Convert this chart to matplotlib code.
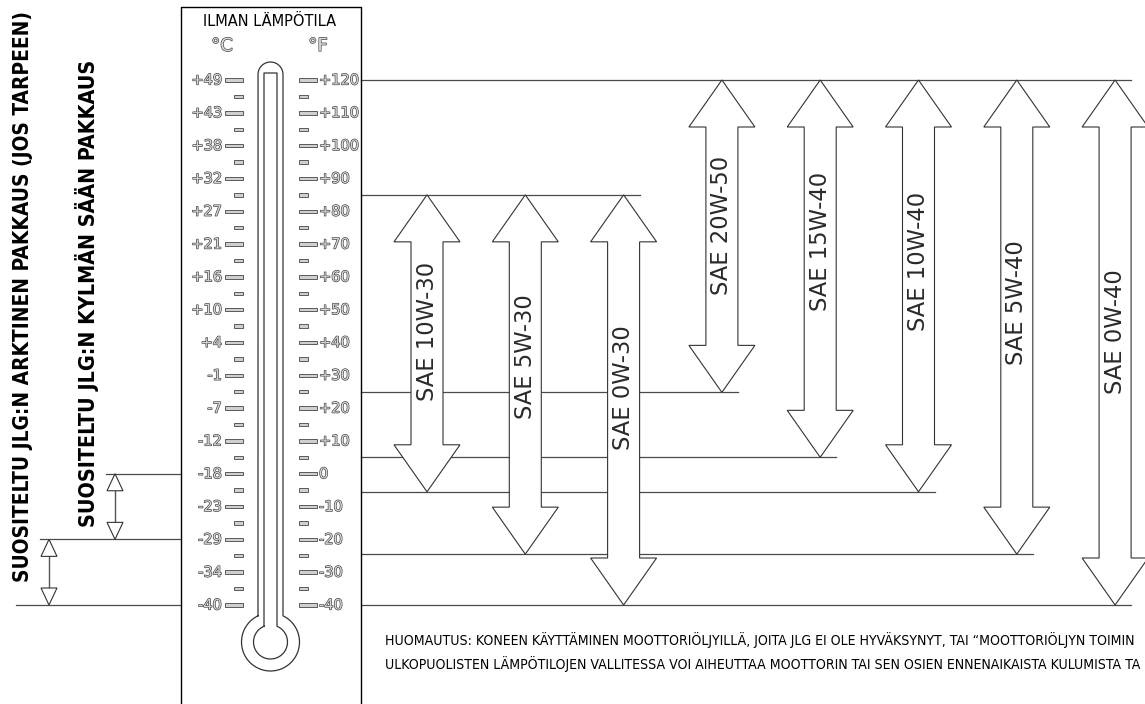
import numpy as np
import matplotlib
matplotlib.use("Agg")
import matplotlib.pyplot as plt
from matplotlib.patches import Polygon, Rectangle
from matplotlib import font_manager as fm
import matplotlib.patheffects as pe

# ---------------- data ----------------
f_ticks = [120, 110, 100, 90, 80, 70, 60, 50, 40, 30, 20, 10, 0, -10, -20, -30, -40]
c_labels = ['+49', '+43', '+38', '+32', '+27', '+21', '+16', '+10', '+4', '-1', '-7',
            '-12', '-18', '-23', '-29', '-34', '-40']
f_labels = ['+120', '+110', '+100', '+90', '+80', '+70', '+60', '+50', '+40', '+30', '+20',
            '+10', '0', '-10', '-20', '-30', '-40']

grades = ['SAE 10W-30', 'SAE 5W-30', 'SAE 0W-30', 'SAE 20W-50',
          'SAE 15W-40', 'SAE 10W-40', 'SAE 5W-40', 'SAE 0W-40']
grade_min_F = [-5.5, -24.5, -40, 24.8, 5, -5.5, -24.5, -40]
grade_max_F = [85, 85, 85, 120, 120, 120, 120, 120]
label_center_F = [43.5, 35.6, 26.1, 75.8, 70.9, 64.8, 52.3, 43.2]

packages = ['SUOSITELTU JLG:N ARKTINEN PAKKAUS (JOS TARPEEN)',
            'SUOSITELTU JLG:N KYLMÄN SÄÄN PAKKAUS']
pack_min_F = [-40, -20]
pack_max_F = [-20, 0]

title = 'ILMAN LÄMPÖTILA'
note_lines = ['HUOMAUTUS: KONEEN KÄYTTÄMINEN MOOTTORIÖLJYILLÄ, JOITA JLG EI OLE HYVÄKSYNYT, TAI “MOOTTORIÖLJYN TOIMIN',
              'ULKOPUOLISTEN LÄMPÖTILOJEN VALLITESSA VOI AIHEUTTAA MOOTTORIN TAI SEN OSIEN ENNENAIKAISTA KULUMISTA TA']

# ---------------- layout helpers ----------------
W, H = 1145, 704
PX_PER_F = 525 / 160.0
TOP_F = 120 + 80 / PX_PER_F


def fy(ypx):
    return TOP_F - np.asarray(ypx, dtype=float) / PX_PER_F


def dfy(px):
    return px / PX_PER_F


# font selection (prefer a narrow face)
names = {(f.name, f.stretch) for f in fm.fontManager.ttflist}
fam_names = {n for n, s in names}
if 'Liberation Sans Narrow' in fam_names:
    COND = dict(family='Liberation Sans Narrow')
elif any(n == 'DejaVu Sans' and 'condensed' in str(s) for n, s in names):
    COND = dict(family='DejaVu Sans', stretch='condensed')
else:
    COND = dict(family='DejaVu Sans')

fig = plt.figure(figsize=(W / 100, H / 100), dpi=100)
ax = fig.add_axes([0, 0, 1, 1])
ax.set_xlim(0, W)
ax.set_ylim(fy(H), fy(0))
ax.axis('off')

LINE_C = '#4a4a4a'
LW = 0.9

# ---------------- thermometer box ----------------
box_l, box_r, box_t = 181, 361, 7
ax.plot([box_l, box_l, box_r, box_r], fy([H + 5, box_t, box_t, H + 5]), color='black', lw=1.0, zorder=3)

# thermometer outline
cx = 270.5
ro, ri = 12.5, 6.5
cap_c = 74.5
bulb_cy, Ro, Ri = 642, 29, 17
th_o = np.degrees(np.arctan2(np.sqrt(Ro**2 - ro**2), ro))
join_o = bulb_cy - np.sqrt(Ro**2 - ro**2)
phi = np.radians(np.linspace(180, 0, 40))
theta = np.radians(np.linspace(th_o, -180 - th_o, 200))
xs = np.concatenate([[cx - ro, cx - ro], cx + ro * np.cos(phi), [cx + ro], cx + Ro * np.cos(theta)])
ys = np.concatenate([[join_o, cap_c], cap_c - ro * np.sin(phi), [join_o], bulb_cy - Ro * np.sin(theta)])
ax.plot(xs, fy(ys), color='#333333', lw=0.9, zorder=3)

th_i = np.degrees(np.arctan2(np.sqrt(Ri**2 - ri**2), ri))
join_i = bulb_cy - np.sqrt(Ri**2 - ri**2)
theta_i = np.radians(np.linspace(th_i, -180 - th_i, 200))
xs = np.concatenate([[cx - ri, cx - ri, cx + ri, cx + ri], cx + Ri * np.cos(theta_i)])
ys = np.concatenate([[join_i, 73, 73, join_i], bulb_cy - Ri * np.sin(theta_i)])
ax.plot(xs, fy(ys), color='#333333', lw=0.9, zorder=3)

# ticks
th = dfy(3.4)
for i, f in enumerate(f_ticks):
    ax.add_patch(Rectangle((225, f - th / 2), 18, th, fc='#cfcfcf', ec='#444', lw=0.6, zorder=3))
    ax.add_patch(Rectangle((299, f - th / 2), 18, th, fc='#cfcfcf', ec='#444', lw=0.6, zorder=3))
    if i < len(f_ticks) - 1:
        m = (f + f_ticks[i + 1]) / 2
        ax.add_patch(Rectangle((234, m - th / 2), 9, th, fc='#cfcfcf', ec='#444', lw=0.6, zorder=3))
        ax.add_patch(Rectangle((299, m - th / 2), 9, th, fc='#cfcfcf', ec='#444', lw=0.6, zorder=3))

outline = [pe.withStroke(linewidth=0.9, foreground='#3a3a3a')]
for f, cl, fl in zip(f_ticks, c_labels, f_labels):
    ax.text(222, f, cl, ha='right', va='center', fontsize=10.5, color='#d8d8d8',
            family='DejaVu Sans', path_effects=outline, zorder=4)
    ax.text(319, f, fl, ha='left', va='center', fontsize=10.5, color='#d8d8d8',
            family='DejaVu Sans', path_effects=outline, zorder=4)

ax.text(222, fy(46), '°C', ha='center', va='center', fontsize=13, color='#d8d8d8',
        family='DejaVu Sans', path_effects=outline, zorder=4)
ax.text(318, fy(46), '°F', ha='center', va='center', fontsize=13, color='#d8d8d8',
        family='DejaVu Sans', path_effects=outline, zorder=4)
t_title = ax.text(270, fy(21), title, ha='center', va='center', fontsize=14, color='black', **COND, zorder=4)

# ---------------- oil grade arrows ----------------
x0, dx = 427, 98.3
gx = [x0 + i * dx for i in range(len(grades))]
HW, SW, HL = 33, 16, dfy(47)

# horizontal boundary lines
ends = {}
for x, lo, hi in zip(gx, grade_min_F, grade_max_F):
    for v in (lo, hi):
        ends[v] = max(ends.get(v, 0), x + 16)
for v, xe in ends.items():
    ax.plot([box_r, xe], [v, v], color=LINE_C, lw=LW, zorder=1)


def dbl_arrow(x, lo, hi, hw, sw, hl, **kw):
    pts = [(x, hi), (x + hw, hi - hl), (x + sw, hi - hl), (x + sw, lo + hl), (x + hw, lo + hl),
           (x, lo), (x - hw, lo + hl), (x - sw, lo + hl), (x - sw, hi - hl), (x - hw, hi - hl)]
    ax.add_patch(Polygon(pts, closed=True, **kw))


for x, lo, hi in zip(gx, grade_min_F, grade_max_F):
    dbl_arrow(x, lo, hi, HW, SW, HL, fc='white', ec='#333333', lw=0.8, zorder=2)

sae_txt = []
for x, name, c in zip(gx, grades, label_center_F):
    sae_txt.append(ax.text(x, c, name, rotation=90, ha='center', va='center', fontsize=13,
                           color='#2a2a2a', family='DejaVu Sans', zorder=4))

# ---------------- package arrows (left) ----------------
px_ = [49, 115]
lend = {}
for x, lo, hi in zip(px_, pack_min_F, pack_max_F):
    for v in (lo, hi):
        lend[v] = min(lend.get(v, 1e9), x - 9)
lend[min(lend)] = 16
for v, xs_ in lend.items():
    ax.plot([xs_, box_l], [v, v], color=LINE_C, lw=LW, zorder=1)

shl = dfy(17)
for x, lo, hi in zip(px_, pack_min_F, pack_max_F):
    ax.plot([x, x], [lo + shl, hi - shl], color='#555555', lw=1.0, zorder=2)
    ax.add_patch(Polygon([(x, hi), (x + 8, hi - shl), (x - 8, hi - shl)], closed=True,
                         fc='white', ec='#333', lw=0.8, zorder=2))
    ax.add_patch(Polygon([(x, lo), (x + 8, lo + shl), (x - 8, lo + shl)], closed=True,
                         fc='white', ec='#333', lw=0.8, zorder=2))

pk_x = [23, 87]
pk_c = [fy(296), fy(293)]
pk_len = [572, 470]
pk_txt = []
for x, c, name in zip(pk_x, pk_c, packages):
    pk_txt.append(ax.text(x, c, name, rotation=90, ha='center', va='center', fontsize=14,
                          fontweight='bold', color='black', **COND, zorder=4))

# ---------------- note ----------------
note_txt = []
for i, line in enumerate(note_lines):
    note_txt.append(ax.text(385, fy(640 + 24 * i), line, ha='left', va='center', fontsize=10,
                            color='black', **COND, zorder=4))

# ---------------- fit text sizes ----------------
fig.canvas.draw()
r = fig.canvas.get_renderer()


def fit(t, target, vertical=False):
    bb = t.get_window_extent(renderer=r)
    cur = bb.height if vertical else bb.width
    t.set_fontsize(t.get_fontsize() * target / cur)


fit(t_title, 134)
fit(sae_txt[0], 138, vertical=True)
for t in sae_txt[1:]:
    t.set_fontsize(sae_txt[0].get_fontsize())
for t, L in zip(pk_txt, pk_len):
    fit(t, L, vertical=True)
for t in note_txt:
    fit(t, 754)

fig.savefig('out.png', dpi=100)
